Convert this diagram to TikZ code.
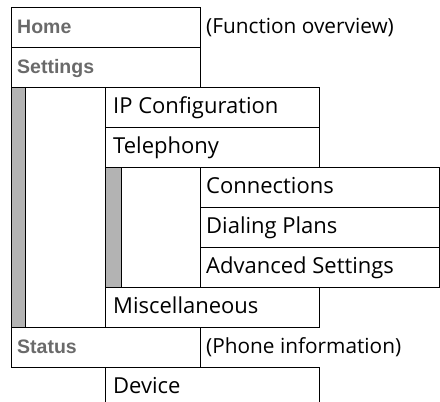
\documentclass[tikz,border=0pt]{standalone}
\usepackage{fontspec}
\setmainfont{Open Sans}
\newfontfamily\headfont{Liberation Sans}
\definecolor{bargray}{HTML}{B3B3B3}
\definecolor{headgray}{HTML}{6A6A6A}
\tikzset{
  cell/.style={draw=black, line width=1pt, rectangle, inner sep=0pt, anchor=north west},
  bar/.style={cell, fill=bargray},
  txt/.style={anchor=base west, inner sep=0pt, font=\fontsize{22}{26}\selectfont},
  note/.style={anchor=base west, inner sep=0pt, font=\fontsize{20.8}{25}\selectfont},
  head/.style={anchor=base west, inner sep=0pt, text=headgray, font=\headfont\bfseries\fontsize{19.5}{23}\selectfont},
}
\begin{document}
\begin{tikzpicture}[x=1pt,y=-1pt]
\useasboundingbox (0,0) rectangle (440,402);
% boxes
\node[cell, minimum width=189pt, minimum height=40pt] (home) at (11,7) {};
\node[cell, minimum width=189pt, minimum height=40pt] (settings) at (11,47) {};
\node[bar, minimum width=14pt, minimum height=240pt] (outerbar) at (11,87) {};
\node[cell, minimum width=214pt, minimum height=40pt] (ipconf) at (105,87) {};
\node[cell, minimum width=214pt, minimum height=40pt] (teleph) at (105,127) {};
\node[bar, minimum width=16pt, minimum height=120pt] (innerbar) at (105,167) {};
\node[cell, minimum width=239pt, minimum height=40pt] (conn) at (200,167) {};
\node[cell, minimum width=239pt, minimum height=40pt] (dial) at (200,207) {};
\node[cell, minimum width=239pt, minimum height=40pt] (adv) at (200,247) {};
\node[cell, minimum width=214pt, minimum height=40pt] (misc) at (105,287) {};
\node[cell, minimum width=189pt, minimum height=40pt] (status) at (11,327) {};
\coordinate (devbl) at (105,403);
\coordinate (devbr) at (319,403);
\coordinate (devtl) at (105,367);
\coordinate (devtr) at (319,367);
\draw[line width=1pt] (devbl) -- (devtl) -- (devtr) -- (devbr);
% texts
\node[head] (thome) at (17,33) {Home};
\node[head] (tsettings) at (17,73) {Settings};
\node[head] (tstatus) at (17,353) {Status};
\node[note] (tfunc) at (206,33) {(Function overview)};
\node[txt] (tip) at (113,113) {IP Configuration};
\node[txt] (ttel) at (113,153) {Telephony};
\node[txt] (tconn) at (206,193) {Connections};
\node[txt] (tdial) at (206,233) {Dialing Plans};
\node[txt] (tadv) at (206,273) {Advanced Settings};
\node[txt] (tmisc) at (113,313) {Miscellaneous};
\node[note] (tphone) at (206,353) {(Phone information)};
\node[txt] (tdev) at (113,393) {Device};
\end{tikzpicture}
\end{document}
